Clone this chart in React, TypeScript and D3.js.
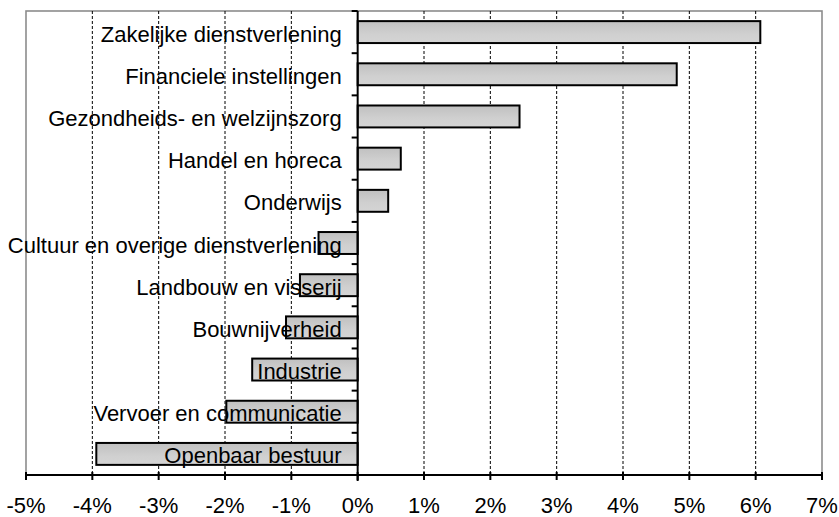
import React from "react";
import * as d3 from "d3";

const categories = [
  "Zakelijke dienstverlening",
  "Financiele instellingen",
  "Gezondheids- en welzijnszorg",
  "Handel en horeca",
  "Onderwijs",
  "Cultuur en overige dienstverlening",
  "Landbouw en visserij",
  "Bouwnijverheid",
  "Industrie",
  "Vervoer en communicatie",
  "Openbaar bestuur",
];
const values = [6.07, 4.81, 2.44, 0.65, 0.46, -0.59, -0.87, -1.08, -1.59, -1.98, -3.94];
const tickValues = [-5, -4, -3, -2, -1, 0, 1, 2, 3, 4, 5, 6, 7];
const tickLabels = tickValues.map((t) => `${t}%`);

const W = 839;
const H = 517;
const left = 26;
const right = 822;
const top = 11;
const bottom = 475;
const FONT = "'Liberation Sans', Arial, Helvetica, sans-serif";
const FS = 22;

export default function App() {
  const x = d3.scaleLinear().domain([-5, 7]).range([left, right]);
  const y = d3
    .scaleBand<string>()
    .domain(categories)
    .range([top, bottom])
    .paddingInner(0.48)
    .paddingOuter(0.24);
  const band = (bottom - top) / categories.length;
  const x0 = x(0);

  return (
    <svg
      width={W}
      height={H}
      style={{ position: "absolute", left: 0, top: 0, background: "#fff" }}
      fontFamily={FONT}
    >
      <defs>
        <linearGradient id="barGrad" x1="0" y1="0" x2="0" y2="1">
          <stop offset="0%" stopColor="#c0c0c0" />
          <stop offset="60%" stopColor="#d0d0d0" />
          <stop offset="100%" stopColor="#d4d4d4" />
        </linearGradient>
      </defs>
      {/* plot border */}
      <rect x={left} y={top} width={right - left} height={bottom - top} fill="#fff" stroke="#8c8c8c" strokeWidth={1.6} />
      {/* gridlines */}
      {tickValues
        .filter((t) => t !== 0 && t !== -5 && t !== 7)
        .map((t) => (
          <line key={t} x1={x(t)} x2={x(t)} y1={top} y2={bottom} stroke="#000" strokeWidth={1} strokeDasharray="3,2" />
        ))}
      {/* bars */}
      {categories.map((c, i) => {
        const v = values[i];
        const x1 = Math.min(x(v), x0);
        const w = Math.abs(x(v) - x0);
        return (
          <rect
            key={c}
            x={x1}
            y={y(c)!}
            width={w}
            height={y.bandwidth()}
            fill="url(#barGrad)"
            stroke="#000"
            strokeWidth={2}
          />
        );
      })}
      {/* zero axis */}
      <line x1={x0} x2={x0} y1={top} y2={bottom + 6} stroke="#000" strokeWidth={2} />
      {d3.range(categories.length + 1).map((i) => (
        <line key={i} x1={x0 - 6} x2={x0} y1={top + i * band} y2={top + i * band} stroke="#000" strokeWidth={2} />
      ))}
      {/* bottom axis */}
      <line x1={left} x2={right} y1={bottom} y2={bottom} stroke="#000" strokeWidth={2} />
      {tickValues.map((t, i) => (
        <g key={t}>
          <line x1={x(t)} x2={x(t)} y1={bottom - 3} y2={bottom + 5} stroke="#000" strokeWidth={2} />
          <text x={x(t)} y={513} textAnchor="middle" fontSize={FS} fill="#000">
            {tickLabels[i]}
          </text>
        </g>
      ))}
      {/* category labels */}
      {categories.map((c) => (
        <text
          key={c}
          x={x0 - 16}
          y={y(c)! + y.bandwidth() / 2 + 9.5}
          textAnchor="end"
          fontSize={FS}
          fill="#000"
        >
          {c}
        </text>
      ))}
    </svg>
  );
}
